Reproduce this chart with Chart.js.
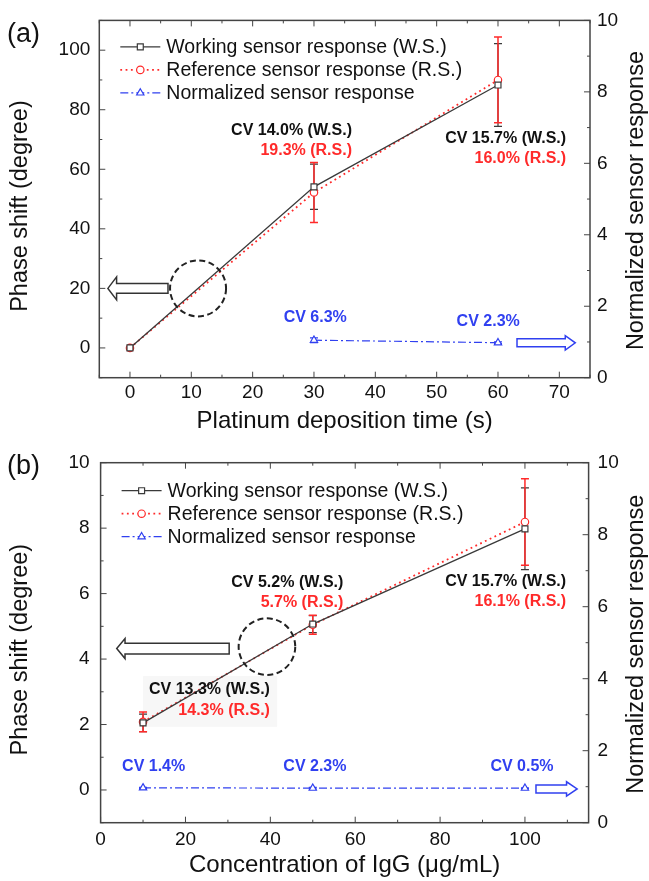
<!DOCTYPE html>
<html>
<head>
<meta charset="utf-8">
<title>Phase shift vs deposition time and IgG concentration</title>
<script src="https://cdn.jsdelivr.net/npm/chart.js@4.4.1/dist/chart.umd.min.js"></script>
<style>
  body { margin: 0; background: #fff; }
  canvas { display: block; }
</style>
</head>
<body>
<canvas id="chart-a" width="649" height="440"></canvas>
<canvas id="chart-b" width="649" height="441"></canvas>
<script>
// Panel (a): platinum deposition time
const timeValues = [0, 30, 60];
const wsPhaseA = [0, 54.1, 88.3];
const wsErrA = [0, 7.6, 13.9];
const rsPhaseA = [0, 52.2, 90.0];
const rsErrA = [0, 10.1, 14.4];
const normTimeValues = [30, 60];
const normA = [1.05, 0.98];
const normErrA = [0.066, 0.023];

// Panel (b): IgG concentration
const iggValues = [10, 50, 100];
const wsPhaseB = [2.05, 5.07, 7.98];
const wsErrB = [0.27, 0.26, 1.25];
const rsPhaseB = [2.08, 5.05, 8.19];
const rsErrB = [0.30, 0.29, 1.32];
const normB = [0.97, 0.96, 0.96];
const normErrB = [0.014, 0.022, 0.005];

// Tick labels
const timeTicks = [0, 10, 20, 30, 40, 50, 60, 70];
const phaseTicksA = [0, 20, 40, 60, 80, 100];
const iggTicks = [0, 20, 40, 60, 80, 100];
const phaseTicksB = [0, 2, 4, 6, 8, 10];
const normTicks = [0, 2, 4, 6, 8, 10];

const legendLabels = [
  "Working sensor response (W.S.)",
  "Reference sensor response (R.S.)",
  "Normalized sensor response",
];

const FONT = '"Liberation Sans", Arial, Helvetica, sans-serif';
const BLACK = "#3a3a3a";
const RED = "#ff2a2a";
const BLUE = "#3040f0";

Chart.defaults.font.family = FONT;
Chart.defaults.color = "#111";

// Pair x and y arrays into points
function toPoints(xs, ys) {
  return xs.map((x, i) => ({ x: x, y: ys[i] }));
}

// Rotated axis title, reading bottom to top
function drawSideTitle(ctx, text, x, y) {
  ctx.save();
  ctx.font = "23.5px " + FONT;
  ctx.fillStyle = "#111";
  ctx.textAlign = "center";
  ctx.textBaseline = "middle";
  ctx.translate(x, y);
  ctx.rotate(-Math.PI / 2);
  ctx.fillText(text, 0, 0);
  ctx.restore();
}

// Decorations: frame, inward ticks, error bars, legend, notes, arrows
const decorPlugin = {
  id: "decor",
  beforeDatasetsDraw(chart, args, opts) {
    const ctx = chart.ctx;
    const xs = chart.scales.x;
    const ys = chart.scales.y;

    // Shaded note box
    (opts.boxes || []).forEach((b) => {
      const x1 = xs.getPixelForValue(b.x1);
      const x2 = xs.getPixelForValue(b.x2);
      const y1 = ys.getPixelForValue(b.y1);
      const y2 = ys.getPixelForValue(b.y2);
      ctx.save();
      ctx.fillStyle = b.color;
      ctx.fillRect(x1, y1, x2 - x1, y2 - y1);
      ctx.restore();
    });

    // Error bars
    chart.data.datasets.forEach((ds) => {
      if (!ds.errors) return;
      const scale = chart.scales[ds.yAxisID];
      ctx.save();
      ctx.strokeStyle = ds.borderColor;
      ctx.lineWidth = ds.errorWidth;
      ds.data.forEach((pt, j) => {
        const e = ds.errors[j];
        if (!e) return;
        const px = xs.getPixelForValue(pt.x);
        const top = scale.getPixelForValue(pt.y + e);
        const bot = scale.getPixelForValue(pt.y - e);
        ctx.beginPath();
        ctx.moveTo(px, top);
        ctx.lineTo(px, bot);
        ctx.moveTo(px - 4, top);
        ctx.lineTo(px + 4, top);
        ctx.moveTo(px - 4, bot);
        ctx.lineTo(px + 4, bot);
        ctx.stroke();
      });
      ctx.restore();
    });
  },
  afterDraw(chart, args, opts) {
    const ctx = chart.ctx;
    const area = chart.chartArea;
    const xs = chart.scales.x;
    const ys = chart.scales.y;

    // Frame
    ctx.save();
    ctx.strokeStyle = "#444";
    ctx.lineWidth = 1.5;
    ctx.strokeRect(area.left, area.top, area.right - area.left, area.bottom - area.top);

    // Inward major and minor ticks on all four sides
    ctx.lineWidth = 1;
    const tickSides = [
      ["x", "bottom"],
      ["x", "top"],
      ["y", "left"],
      ["y2", "right"],
    ];
    tickSides.forEach(([id, side]) => {
      const scale = chart.scales[id];
      const [minor, major] = opts.ticks[id];
      const first = Math.ceil(scale.min / minor - 1e-9);
      const last = Math.floor(scale.max / minor + 1e-9);
      for (let k = first; k <= last; k++) {
        const v = k * minor;
        const isMajor = Math.abs(v / major - Math.round(v / major)) < 1e-6;
        const len = isMajor ? 6 : 3;
        const p = scale.getPixelForValue(v);
        ctx.beginPath();
        if (side === "bottom") {
          ctx.moveTo(p, area.bottom);
          ctx.lineTo(p, area.bottom - len);
        } else if (side === "top") {
          ctx.moveTo(p, area.top);
          ctx.lineTo(p, area.top + len);
        } else if (side === "left") {
          ctx.moveTo(area.left, p);
          ctx.lineTo(area.left + len, p);
        } else {
          ctx.moveTo(area.right, p);
          ctx.lineTo(area.right - len, p);
        }
        ctx.stroke();
      }
    });
    ctx.restore();

    // Dashed circles
    (opts.circles || []).forEach((c) => {
      ctx.save();
      ctx.strokeStyle = "#222";
      ctx.lineWidth = 2;
      ctx.setLineDash([6, 3.5]);
      ctx.beginPath();
      ctx.arc(xs.getPixelForValue(c.x), ys.getPixelForValue(c.y), c.r, 0, Math.PI * 2);
      ctx.stroke();
      ctx.restore();
    });

    // Hollow arrows
    (opts.arrows || []).forEach((a) => {
      const tail = xs.getPixelForValue(a.from);
      const tip = xs.getPixelForValue(a.to);
      const cy = ys.getPixelForValue(a.y);
      const dir = tip > tail ? 1 : -1;
      const base = tip - dir * a.head;
      ctx.save();
      ctx.strokeStyle = a.color;
      ctx.fillStyle = "#fff";
      ctx.lineWidth = 1.5;
      ctx.beginPath();
      ctx.moveTo(tail, cy - a.body);
      ctx.lineTo(base, cy - a.body);
      ctx.lineTo(base, cy - a.half);
      ctx.lineTo(tip, cy);
      ctx.lineTo(base, cy + a.half);
      ctx.lineTo(base, cy + a.body);
      ctx.lineTo(tail, cy + a.body);
      ctx.closePath();
      ctx.fill();
      ctx.stroke();
      ctx.restore();
    });

    // CV notes
    (opts.notes || []).forEach((n) => {
      ctx.save();
      ctx.font = "bold 16px " + FONT;
      ctx.fillStyle = n.color;
      ctx.textAlign = n.align;
      ctx.textBaseline = "middle";
      ctx.fillText(n.text, xs.getPixelForValue(n.x), ys.getPixelForValue(n.y));
      ctx.restore();
    });

    // Legend: line sample with marker in the middle
    const lx = area.left + 21;
    chart.data.datasets.forEach((ds, i) => {
      const ly = area.top + opts.legendTop + i * 23;
      ctx.save();
      ctx.strokeStyle = ds.borderColor;
      ctx.lineWidth = ds.borderWidth;
      ctx.setLineDash(ds.borderDash || []);
      ctx.beginPath();
      ctx.moveTo(lx, ly);
      ctx.lineTo(lx + 40, ly);
      ctx.stroke();
      ctx.setLineDash([]);
      ctx.fillStyle = "#fff";
      ctx.lineWidth = 1.2;
      Chart.helpers.drawPoint(ctx, {
        pointStyle: ds.pointStyle,
        radius: ds.pointRadius,
        rotation: 0,
        borderWidth: 1.2,
      }, lx + 20, ly);
      ctx.font = "19.5px " + FONT;
      ctx.fillStyle = "#111";
      ctx.textAlign = "left";
      ctx.textBaseline = "middle";
      ctx.fillText(ds.label, lx + 46, ly + 1);
      ctx.restore();
    });

    // Side titles (the reference sits them a little below centre)
    const midY = (area.top + area.bottom) / 2;
    drawSideTitle(ctx, "Phase shift (degree)", 21, midY + 7);
    drawSideTitle(ctx, "Normalized sensor response", 637, midY + 1.5);

    // Panel letter
    ctx.save();
    ctx.font = "27px " + FONT;
    ctx.fillStyle = "#111";
    ctx.textBaseline = "middle";
    ctx.fillText(opts.letter, 7, opts.letterY);
    ctx.restore();
  },
};

function makeDatasets(xs, ws, wsErr, rs, rsErr, nxs, norm, normErr) {
  return [
    {
      label: legendLabels[0],
      data: toPoints(xs, ws),
      errors: wsErr,
      errorWidth: 1.2,
      yAxisID: "y",
      borderColor: BLACK,
      borderWidth: 1.3,
      pointStyle: "rect",
      pointRadius: 4.2,
      pointBorderWidth: 1.2,
      pointBackgroundColor: "#fff",
      tension: 0,
    },
    {
      label: legendLabels[1],
      data: toPoints(xs, rs),
      errors: rsErr,
      errorWidth: 1.5,
      yAxisID: "y",
      borderColor: RED,
      borderWidth: 1.8,
      borderDash: [1.8, 3.5],
      pointStyle: "circle",
      pointRadius: 3.7,
      pointBorderWidth: 1.2,
      pointBackgroundColor: "#fff",
      tension: 0,
    },
    {
      label: legendLabels[2],
      data: toPoints(nxs, norm),
      errors: normErr,
      errorWidth: 1.2,
      yAxisID: "y2",
      borderColor: BLUE,
      borderWidth: 1.2,
      borderDash: [8, 3, 2, 3],
      pointStyle: "triangle",
      pointRadius: 4.2,
      pointBorderWidth: 1.2,
      pointBackgroundColor: "#fff",
      tension: 0,
    },
  ];
}

// Use the named tick arrays as the axis ticks
function fixedTicks(values) {
  return (scale) => {
    scale.ticks = values.map((v) => ({ value: v }));
  };
}

function makeScales(p) {
  const tickFont = { size: 19 };
  return {
    x: {
      type: "linear",
      min: p.xMin,
      max: p.xMax,
      grid: { display: false, drawTicks: false },
      border: { display: false },
      ticks: { font: tickFont, padding: p.xPad, maxRotation: 0 },
      afterBuildTicks: fixedTicks(p.xTicks),
      title: { display: true, text: p.xTitle, font: { size: 24 }, padding: { top: 0, bottom: p.xTitlePad } },
      afterFit: (s) => { s.height = p.xHeight; },
    },
    y: {
      position: "left",
      min: p.yMin,
      max: p.yMax,
      grid: { display: false, drawTicks: false },
      border: { display: false },
      ticks: { font: tickFont, padding: p.yPad },
      afterBuildTicks: fixedTicks(p.yTicks),
      afterFit: (s) => { s.width = p.leftWidth; },
    },
    y2: {
      position: "right",
      min: 0,
      max: 10,
      grid: { display: false, drawTicks: false },
      border: { display: false },
      ticks: { font: tickFont, padding: p.y2Pad },
      afterBuildTicks: fixedTicks(normTicks),
      afterFit: (s) => { s.width = p.rightWidth; },
    },
  };
}

// Panel (a)
new Chart(document.getElementById("chart-a"), {
  type: "line",
  data: {
    datasets: makeDatasets(timeValues, wsPhaseA, wsErrA, rsPhaseA, rsErrA, normTimeValues, normA, normErrA),
  },
  options: {
    responsive: false,
    animation: false,
    devicePixelRatio: 1,
    layout: { padding: { top: 17.3, right: 0, bottom: 0, left: 0 } },
    scales: makeScales({
      xMin: -5, xMax: 75, xTicks: timeTicks, xPad: 4, xHeight: 62.3, xTitlePad: 4,
      xTitle: "Platinum deposition time (s)",
      yMin: -10, yMax: 110, yTicks: phaseTicksA, yPad: 9, leftWidth: 99.3,
      y2Pad: 7, rightWidth: 59,
    }),
    plugins: {
      legend: { display: false },
      tooltip: { enabled: false },
      decor: {
        ticks: { x: [5, 10], y: [10, 20], y2: [1, 2] },
        legendTop: 26.5,
        letter: "(a)",
        letterY: 35,
        circles: [{ x: 11.1, y: 20, r: 28 }],
        arrows: [
          { from: 6.2, to: -3.6, y: 20, head: 8.7, half: 11.5, body: 4.8, color: "#333" },
          { from: 63.1, to: 72.6, y: 1.7, head: 10, half: 7.2, body: 4, color: BLUE },
        ],
        notes: [
          { text: "CV 14.0% (W.S.)", x: 36.2, y: 73, color: "#111", align: "right" },
          { text: "19.3% (R.S.)", x: 36.2, y: 66.3, color: RED, align: "right" },
          { text: "CV 15.7% (W.S.)", x: 71.1, y: 70.2, color: "#111", align: "right" },
          { text: "16.0% (R.S.)", x: 71.1, y: 63.7, color: RED, align: "right" },
          { text: "CV 6.3%", x: 30.2, y: 10.2, color: BLUE, align: "center" },
          { text: "CV 2.3%", x: 58.4, y: 8.7, color: BLUE, align: "center" },
        ],
      },
    },
  },
  plugins: [decorPlugin],
});

// Panel (b)
new Chart(document.getElementById("chart-b"), {
  type: "line",
  data: {
    datasets: makeDatasets(iggValues, wsPhaseB, wsErrB, rsPhaseB, rsErrB, iggValues, normB, normErrB),
  },
  options: {
    responsive: false,
    animation: false,
    devicePixelRatio: 1,
    layout: { padding: { top: 22.7, right: 0, bottom: 0, left: 0 } },
    scales: makeScales({
      xMin: 0, xMax: 115, xTicks: iggTicks, xPad: 6, xHeight: 58.3, xTitlePad: 1,
      xTitle: "Concentration of IgG (μg/mL)",
      yMin: -1, yMax: 10, yTicks: phaseTicksB, yPad: 11, leftWidth: 100.6,
      y2Pad: 9, rightWidth: 60.4,
    }),
    plugins: {
      legend: { display: false },
      tooltip: { enabled: false },
      decor: {
        ticks: { x: [10, 20], y: [1, 2], y2: [1, 2] },
        legendTop: 28,
        letter: "(b)",
        letterY: 27,
        boxes: [{ x1: 10, x2: 41.6, y1: 3.48, y2: 1.93, color: "#f7f7f7" }],
        circles: [{ x: 39.2, y: 4.38, r: 28.3 }],
        arrows: [
          { from: 30.3, to: 3.8, y: 4.32, head: 8.3, half: 10, body: 5.3, color: "#333" },
          { from: 102.6, to: 112.3, y: 0.03, head: 10.6, half: 7.2, body: 3.9, color: BLUE },
        ],
        notes: [
          { text: "CV 5.2% (W.S.)", x: 57.2, y: 6.33, color: "#111", align: "right" },
          { text: "5.7% (R.S.)", x: 57.2, y: 5.73, color: RED, align: "right" },
          { text: "CV 15.7% (W.S.)", x: 109.7, y: 6.36, color: "#111", align: "right" },
          { text: "16.1% (R.S.)", x: 109.7, y: 5.75, color: RED, align: "right" },
          { text: "CV 13.3% (W.S.)", x: 39.9, y: 3.08, color: "#111", align: "right" },
          { text: "14.3% (R.S.)", x: 39.9, y: 2.42, color: RED, align: "right" },
          { text: "CV 1.4%", x: 12.5, y: 0.71, color: BLUE, align: "center" },
          { text: "CV 2.3%", x: 50.5, y: 0.71, color: BLUE, align: "center" },
          { text: "CV 0.5%", x: 99.3, y: 0.71, color: BLUE, align: "center" },
        ],
      },
    },
  },
  plugins: [decorPlugin],
});
</script>
</body>
</html>
